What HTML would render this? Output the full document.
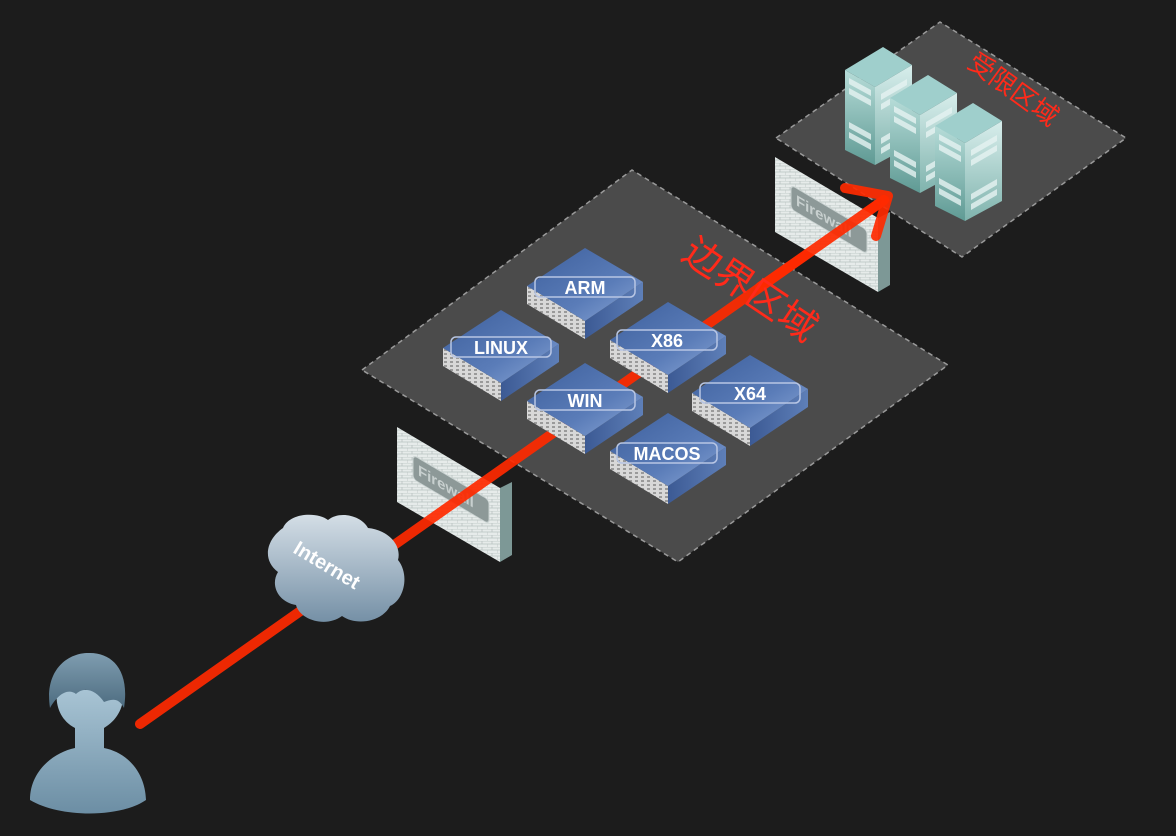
<!DOCTYPE html>
<html><head><meta charset="utf-8"><style>
html,body{margin:0;padding:0;background:#1c1c1c;}
svg{display:block;}
text{font-family:"Liberation Sans","Noto Sans CJK SC",sans-serif;}
</style></head><body>
<svg width="1176" height="836" viewBox="0 0 1176 836" xmlns="http://www.w3.org/2000/svg">
<defs>
<linearGradient id="blueTop" x1="0" y1="0" x2="1" y2="1"><stop offset="0" stop-color="#3d5f9c"/><stop offset="0.6" stop-color="#5a7cb8"/><stop offset="1" stop-color="#8aa6d6"/></linearGradient>
<linearGradient id="blueSide" x1="0" y1="0" x2="1" y2="0"><stop offset="0" stop-color="#3c5a94"/><stop offset="1" stop-color="#5e7fb8"/></linearGradient>
<pattern id="grill" width="6" height="4" patternUnits="userSpaceOnUse"><rect width="6" height="4" fill="#d8d8d8"/><rect x="1" y="1" width="3" height="2" fill="#9a9a9a"/></pattern>
<pattern id="brick" width="10" height="6" patternUnits="userSpaceOnUse"><rect width="10" height="6" fill="#e6ebea"/><path d="M0 0H10M0 3H10M5 0V3M0 3V6" stroke="#b8c2c0" stroke-width="0.8"/></pattern>
<linearGradient id="towerL" x1="0" y1="0" x2="0" y2="1"><stop offset="0" stop-color="#b6dcd8"/><stop offset="1" stop-color="#5f9a94"/></linearGradient>
<linearGradient id="towerR" x1="0" y1="0" x2="0" y2="1"><stop offset="0" stop-color="#d8eeec"/><stop offset="1" stop-color="#7fb3ad"/></linearGradient>
<linearGradient id="person" x1="0" y1="0" x2="0" y2="1"><stop offset="0" stop-color="#a8c4d4"/><stop offset="1" stop-color="#6c8ea4"/></linearGradient>
<linearGradient id="cloud" x1="0" y1="0" x2="0" y2="1"><stop offset="0" stop-color="#d4dee6"/><stop offset="1" stop-color="#7590a6"/></linearGradient>
<linearGradient id="hair" x1="0" y1="0" x2="0" y2="1"><stop offset="0" stop-color="#7f9db0"/><stop offset="1" stop-color="#4d6c80"/></linearGradient>

<g id="slab">
  <polygon points="0,0 58,35 58,53 0,18" fill="url(#grill)"/>
  <polygon points="58,35 116,-4 116,14 58,53" fill="url(#blueSide)"/>
  <polygon points="0,0 58,-38 116,-4 58,35" fill="url(#blueTop)"/>
</g>

<g id="tower">
  <polygon points="0,0 30,17 30,95 0,80" fill="url(#towerL)"/>
  <polygon points="30,17 67,-5 67,75 30,95" fill="url(#towerR)"/>
  <polygon points="0,0 38,-23 67,-5 30,17" fill="#9fcfcc"/>
  <g fill="#e6f3f2" opacity="0.8">
    <polygon points="4,8 26,20 26,26 4,14"/><polygon points="4,18 26,30 26,36 4,24"/>
    <polygon points="4,52 26,64 26,70 4,58"/><polygon points="4,62 26,74 26,80 4,68"/>
    <polygon points="36,24 62,9 62,15 36,30"/><polygon points="36,34 62,19 62,25 36,40"/>
    <polygon points="36,68 62,53 62,59 36,74"/><polygon points="36,78 62,63 62,69 36,84"/>
  </g>
</g>

<g id="fw">
  <polygon points="0,0 103,61 103,135 0,75" fill="url(#brick)"/>
  <polygon points="103,61 115,55 115,128 103,135" fill="#7d9896"/>
  <g transform="matrix(1,0.592,0,1,16,28)">
    <rect x="0" y="0" width="76" height="24" rx="4" fill="#8d9998" stroke="#c9d2d1"/>
    <text x="5" y="17" font-size="15" font-weight="bold" fill="#c8d0cf">Firewall</text>
  </g>
</g>
</defs>

<rect width="1176" height="836" fill="#1c1c1c"/>

<polygon points="362,370 632,170 948,365 678,562" fill="#4b4b4b" stroke="#9a9a9a" stroke-width="1.5" stroke-dasharray="5,4"/>
<polygon points="776,138 940,22 1126,138 962,257" fill="#4b4b4b" stroke="#9a9a9a" stroke-width="1.5" stroke-dasharray="5,4"/>

<use href="#fw" x="397" y="427"/>

<line x1="140" y1="724" x2="884" y2="200" stroke="#ff2a00" stroke-width="10" stroke-linecap="round" opacity="0.92"/>

<g>
  <path d="M283,528 C290,512 318,512 328,520 C340,510 362,516 368,528 C388,530 402,545 398,560 C410,575 404,600 390,606 C382,622 356,626 342,616 C326,628 300,620 296,605 C278,602 270,585 278,572 C262,560 266,540 283,528 Z" fill="url(#cloud)"/>
  <text transform="translate(292,552) rotate(31)" font-size="20" font-weight="bold" fill="#fff">Internet</text>
</g>

<g>
  <path d="M30,800 C30,770 55,752 75,748 L75,728 C60,720 55,705 57,690 L123,690 C125,705 118,720 104,728 L104,748 C125,752 145,770 146,800 C120,818 60,818 30,800 Z" fill="url(#person)"/>
  <path d="M50,708 C44,670 68,652 90,653 C112,653 130,670 124,708 C118,696 110,700 104,702 C96,690 84,686 76,694 C68,688 58,694 50,708 Z" fill="url(#hair)"/>
</g>

<use href="#slab" x="527" y="286"/>
<use href="#slab" x="443" y="348"/>
<use href="#slab" x="610" y="340"/>
<use href="#slab" x="527" y="401"/>
<use href="#slab" x="692" y="393"/>
<use href="#slab" x="610" y="451"/>
<g font-size="18" font-weight="bold" fill="#fff" text-anchor="middle">
  <rect x="535" y="277" width="100" height="20" rx="5" fill="none" stroke="#b8c6e4" stroke-width="1.5"/><text x="585" y="294">ARM</text>
  <rect x="451" y="337" width="100" height="20" rx="5" fill="none" stroke="#b8c6e4" stroke-width="1.5"/><text x="501" y="354">LINUX</text>
  <rect x="617" y="330" width="100" height="20" rx="5" fill="none" stroke="#b8c6e4" stroke-width="1.5"/><text x="667" y="347">X86</text>
  <rect x="535" y="390" width="100" height="20" rx="5" fill="none" stroke="#b8c6e4" stroke-width="1.5"/><text x="585" y="407">WIN</text>
  <rect x="700" y="383" width="100" height="20" rx="5" fill="none" stroke="#b8c6e4" stroke-width="1.5"/><text x="750" y="400">X64</text>
  <rect x="617" y="443" width="100" height="20" rx="5" fill="none" stroke="#b8c6e4" stroke-width="1.5"/><text x="667" y="460">MACOS</text>
</g>

<use href="#tower" x="845" y="70"/>
<use href="#tower" x="890" y="98"/>
<use href="#tower" x="935" y="126"/>

<use href="#fw" x="775" y="157"/>
<line x1="760" y1="287" x2="884" y2="200" stroke="#ff2a00" stroke-width="10" stroke-linecap="round" opacity="0.92"/>
<polyline points="845,188 888,196 876,236" fill="none" stroke="#ff2a00" stroke-width="10" stroke-linecap="round" stroke-linejoin="round" opacity="0.92"/>

<text transform="translate(680,258) rotate(34)" font-size="38" fill="#ff2a1a">边界区域</text>
<text transform="translate(966,66) rotate(36)" font-size="26" fill="#ff2a1a">受限区域</text>
</svg>
</body></html>
